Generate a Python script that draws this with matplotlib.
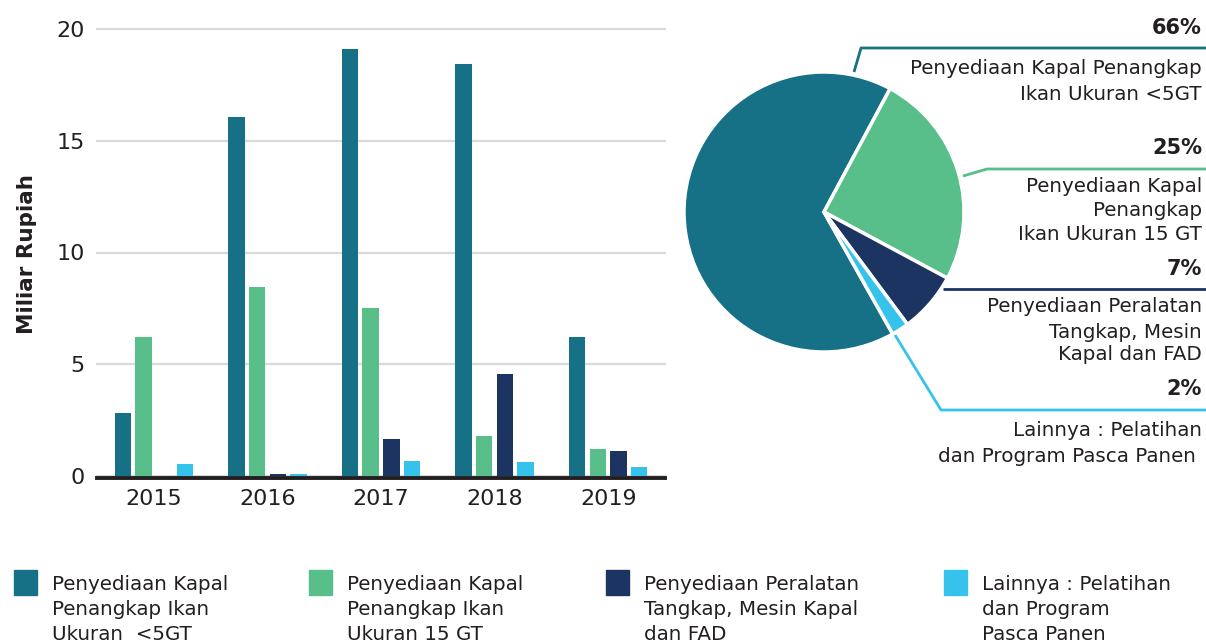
import numpy as np
import matplotlib
matplotlib.use("Agg")
import matplotlib.pyplot as plt
from matplotlib.patches import Rectangle

# Data
years = ["2015", "2016", "2017", "2018", "2019"]
kapal_5gt = [2.8, 16.05, 19.1, 18.45, 6.2]
kapal_15gt = [6.2, 8.45, 7.5, 1.8, 1.2]
peralatan = [0.0, 0.08, 1.65, 4.55, 1.1]
lainnya = [0.55, 0.07, 0.65, 0.63, 0.4]

pie_share = [66, 25, 7, 2]
pie_pct = ["66%", "25%", "7%", "2%"]
pie_text = [
    ["Penyediaan Kapal Penangkap", "Ikan Ukuran <5GT"],
    ["Penyediaan Kapal", "Penangkap", "Ikan Ukuran 15 GT"],
    ["Penyediaan Peralatan", "Tangkap, Mesin", "Kapal dan FAD"],
    ["Lainnya : Pelatihan", "dan Program Pasca Panen "],
]
legend_text = [
    "Penyediaan Kapal\nPenangkap Ikan\nUkuran  <5GT",
    "Penyediaan Kapal\nPenangkap Ikan\nUkuran 15 GT",
    "Penyediaan Peralatan\nTangkap, Mesin Kapal\ndan FAD",
    "Lainnya : Pelatihan\ndan Program\nPasca Panen",
]

colors = ["#167186", "#58be8a", "#1c3462", "#35c3ec"]
txt = "#231f20"

W, H = 1206, 643
fig = plt.figure(figsize=(W / 100, H / 100), dpi=100)

# ---- bar chart ----
ax = fig.add_axes([97 / W, (H - 476) / H, (665 - 97) / W, (476 - 29) / H])
x = np.arange(len(years))
step = 0.182
width = 0.145
series = [kapal_5gt, kapal_15gt, peralatan, lainnya]
for i, vals in enumerate(series):
    ax.bar(x + (i - 1.5) * step, vals, width, color=colors[i], zorder=3)

ax.set_xlim(-0.5, len(years) - 0.5)
ax.set_ylim(0, 20)
ax.set_yticks([0, 5, 10, 15, 20])
ax.set_xticks(x)
ax.set_xticklabels(years)
ax.tick_params(axis="both", length=0, labelsize=16, colors=txt)
ax.tick_params(axis="y", pad=9)
ax.tick_params(axis="x", pad=8)
ax.grid(axis="y", color="#d9d9d9", linewidth=1.6, zorder=0)
for gl in ax.get_ygridlines():
    gl.set_clip_on(False)
for s in ["top", "right", "left"]:
    ax.spines[s].set_visible(False)
ax.spines["bottom"].set_color(txt)
ax.spines["bottom"].set_linewidth(2.8)
ax.spines["bottom"].set_position(("outward", 1.3))
ax.spines["bottom"].set_zorder(4)
fig.text(27 / W, (H - 254) / H, "Miliar Rupiah", rotation=90, ha="center",
         va="center", fontsize=15.5, fontweight="bold", color=txt)

# ---- pie and labels, drawn in pixel coordinates ----
ov = fig.add_axes([0, 0, 1, 1])
ov.patch.set_visible(False)
cx, cy, r = 824, H - 212, 140
ov.pie(pie_share, colors=colors, startangle=-60.6, counterclock=False,
       center=(cx, cy), radius=r,
       wedgeprops=dict(edgecolor="white", linewidth=2.5))
ov.set_xlim(0, W)
ov.set_ylim(0, H)
ov.set_aspect("auto")
ov.axis("off")

leaders = [
    [(854, 72), (861, 48), (1206, 48)],
    [(963, 176), (987, 169), (1206, 169)],
    [(943, 289), (1206, 289)],
    [(895, 335), (941, 410), (1206, 410)],
]
for pts, c in zip(leaders, colors):
    xs = [p[0] for p in pts]
    ys = [H - p[1] for p in pts]
    ov.plot(xs, ys, color=c, linewidth=2, solid_capstyle="butt")

pct_y = [28, 148, 269, 389]
line_y = [[68, 95], [187, 211, 234], [307, 332, 355], [430, 457]]
for k in range(4):
    ov.text(1202, H - pct_y[k], pie_pct[k], ha="right", va="center",
            fontsize=15, fontweight="bold", color=txt)
    for t, yy in zip(pie_text[k], line_y[k]):
        ov.text(1202, H - yy, t, ha="right", va="center", fontsize=14.3,
                color=txt)

# ---- legend at the bottom ----
leg_x = [14, 309, 606, 944]
for k in range(4):
    ov.add_patch(Rectangle((leg_x[k], H - 595), 23, 25, color=colors[k]))
    ov.text(leg_x[k] + 38, H - 575, legend_text[k], ha="left", va="top",
            fontsize=14.3, color=txt, linespacing=1.4)

fig.savefig("out.png", dpi=100)
